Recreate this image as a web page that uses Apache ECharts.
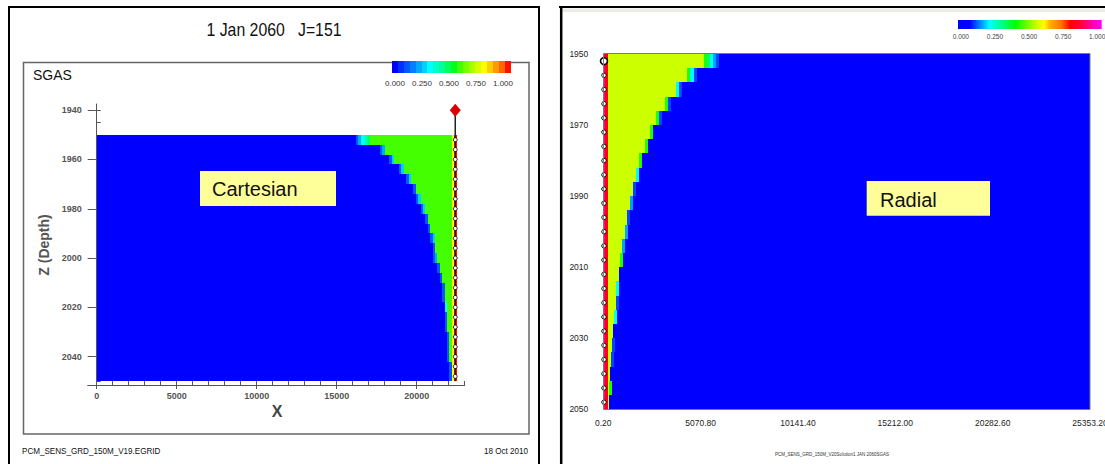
<!DOCTYPE html>
<html><head><meta charset="utf-8">
<script src="https://cdn.jsdelivr.net/npm/echarts@6/dist/echarts.min.js"></script>
<style>html,body{margin:0;padding:0;background:#fff}#c{width:1105px;height:464px}</style>
</head><body><div id="c"></div>
<script>
// ================= DATA =================
// layers (depth tops, 4 m thick) shared by both models
const layerTops = [1950,1954,1958,1962,1966,1970,1974,1978,1982,1986,1990,1994,1998,2002,2006,2010,2014,2018,2022,2026,2030,2034,2038,2042,2046];
const layerThickness = 4;

// Cartesian model (left)
const cartExtent = [0, 22500];
const cartFront = [17100,18000,18600,19200,19650,19950,20250,20550,20700,20850,21150,21150,21300,21450,21600,21750,21750,21900,21900,21900,22050,22050,22050,22200,22200];
const cartTrans = [
  [0.12,0.22,0.3,0.3,0.4,0.48],[0.12,0.22],[0.12,0.28],[0.12,0.28],[0.12,0.28],
  [0.12],[0.12,0.28],[0.12,0.28],[0.12],[0.12],
  [0.12,0.28],[0.12],[0.12,0.22],[0.12],[0.12],
  [0.12],[0.12],[0.3],[0.12],[0.12],
  [0.12],[0.12],[0.12],[0.12],[0.12]
];
const cartCellWidth = 150;
const cartGasValue = 0.57;
const cartWellCells = [[22230,22330,0.78],[22330,22500,0.98]];
const cartWellX = 22410;
const cartWellTopZ = 1940;

// Radial model (right)
const radExtent = [0.2, 25353.2];
const radNearWell = [[0.2,110,0.93],[110,240,0.79]];
const radGasEnd = [5250,4380,3770,3200,2760,2450,2155,1860,1720,1547,1407,1250,1114,974,854,818,677,646,541,505,469,385,365,297,245];
const radTrans = [
  [0.42,0.33,0.22,0.17,0.12],[0.42,0.22,0.12],[0.22,0.12],[0.42,0.12],[0.42,0.12],
  [0.42],[0.42],[0.42],[0.22],[0.12],
  [0.17],[0.12],[0.17],[0.17],[0.42],
  [],[0.22],[0.12],[0.22],[],
  [0.12],[0.12],[],[0.42],[]
];
const radCellWidth = 160;
const radGasValue = 0.55;
const radWellX = 36;

// ticks
const cartXTicks = [0,5000,10000,15000,20000];
const cartXMinor = [0,1000,2000,3000,4000,5000,6000,7000,8000,9000,10000,11000,12000,13000,14000,15000,16000,17000,18000,19000,20000,21000,22000,23000];
const cartZTicks = [1940,1960,1980,2000,2020,2040];
const cartZMinor = [1940,1945,1950,1955,1960,1965,1970,1975,1980,1985,1990,1995,2000,2005,2010,2015,2020,2025,2030,2035,2040,2045,2050];
const radXTicks = [0.2,5070.8,10141.4,15212.0,20282.6,25353.2];
const radZTicks = [1950,1970,1990,2010,2030,2050];
const colorbarTicks = [0,0.25,0.5,0.75,1];
const cartPaletteSteps = 20;

// ================= STYLE =================
const FONT = "'Liberation Sans', Arial, sans-serif";
const cartPalette = ['#0000ff','#0030ff','#0058ff','#0080ff','#00a8ff','#00d0ff','#00ffff','#00ffc8','#00ff96','#00ff5a',
                     '#00ff1e','#44ff00','#78ff00','#a8ff00','#d8ff00','#ffff00','#ffcc00','#ff9900','#ff6600','#ff1000'];
const radStops = [[0,'#0000ff'],[0.08,'#0000ff'],[0.22,'#00ffff'],[0.4,'#00ff00'],[0.55,'#ccff00'],[0.6,'#ffff00'],
                  [0.64,'#ffb000'],[0.72,'#ff7000'],[0.78,'#ff0000'],[0.86,'#ff0040'],[1,'#ff00ff']];

function cartColor(v){ return cartPalette[Math.max(0, Math.min(cartPalette.length-1, Math.floor(v*cartPaletteSteps)))]; }
function hex2rgb(h){ return [parseInt(h.slice(1,3),16),parseInt(h.slice(3,5),16),parseInt(h.slice(5,7),16)]; }
function radColor(v){
  for (let i=1;i<radStops.length;i++){
    if (v <= radStops[i][0]){
      const a = radStops[i-1], b = radStops[i];
      const t = (v-a[0])/(b[0]-a[0] || 1);
      const ca = hex2rgb(a[1]), cb = hex2rgb(b[1]);
      return 'rgb(' + ca.map((c,k)=>Math.round(c+(cb[k]-c)*t)).join(',') + ')';
    }
  }
  return radStops[radStops.length-1][1];
}

// ================= CELLS =================
const zBottom = layerTops[layerTops.length-1] + layerThickness;
const cartCells = [[cartExtent[0], cartExtent[1], layerTops[0], zBottom, 0]];
layerTops.forEach((z0,i)=>{
  const z1 = z0 + layerThickness;
  const front = cartFront[i];
  cartCells.push([front, cartWellCells[0][0], z0, z1, cartGasValue]);
  const tr = cartTrans[i];
  tr.forEach((v,k)=>{
    const xr = front - (tr.length-1-k)*cartCellWidth;
    cartCells.push([xr - cartCellWidth, xr, z0, z1, v]);
  });
  cartWellCells.forEach(c=>cartCells.push([c[0], c[1], z0, z1, c[2]]));
});

const radCells = [[radExtent[0], radExtent[1], layerTops[0], zBottom, 0]];
layerTops.forEach((z0,i)=>{
  const z1 = z0 + layerThickness;
  const gEnd = radGasEnd[i];
  radCells.push([radNearWell[radNearWell.length-1][1], gEnd, z0, z1, radGasValue]);
  radTrans[i].forEach((v,k)=>{
    radCells.push([gEnd + k*radCellWidth, gEnd + (k+1)*radCellWidth, z0, z1, v]);
  });
  radNearWell.forEach(c=>radCells.push([c[0], c[1], z0, z1, c[2]]));
});

const layerMid = layerTops.map(z=>z + layerThickness/2);
const cartDots = layerMid.map(z=>[cartWellX, z]);
const radDots = layerMid.map((z,i)=>({value:[radWellX, z], symbolSize: i===0?7:4.5, itemStyle:{borderWidth: i===0?1.6:1}}));

const cartBar = cartPalette.map((c,i)=>[i/cartPaletteSteps, (i+1)/cartPaletteSteps, 0, 1, (i+0.5)/cartPaletteSteps]);
const radBar = [[0,1,0,1,0]];

function cellRenderer(colorFn){
  return function(params, api){
    const a = api.coord([api.value(0), api.value(2)]);
    const b = api.coord([api.value(1), api.value(3)]);
    const x0 = Math.round(Math.min(a[0],b[0])), x1 = Math.round(Math.max(a[0],b[0]));
    const y0 = Math.round(Math.min(a[1],b[1])), y1 = Math.round(Math.max(a[1],b[1]));
    return {type:'rect', shape:{x:x0, y:y0, width:Math.max(1,x1-x0), height:Math.max(1,y1-y0)}, style:{fill:colorFn(api.value(4))}};
  };
}
function gradRenderer(params, api){
  const a = api.coord([api.value(0), api.value(2)]);
  const b = api.coord([api.value(1), api.value(3)]);
  return {type:'rect', shape:{x:Math.min(a[0],b[0]), y:Math.min(a[1],b[1]), width:Math.abs(b[0]-a[0]), height:Math.abs(b[1]-a[1])},
    style:{fill: new echarts.graphic.LinearGradient(0,0,1,0, radStops.map(s=>({offset:s[0], color:s[1]})))}};
}

const axisGray = '#555';
const plain = v => String(v);
const hiddenAxis = (g, min, max)=>({gridIndex:g, type:'value', min, max, show:false});

const chart = echarts.init(document.getElementById('c'), null, {renderer:'svg'});
chart.setOption({
  animation:false,
  backgroundColor:'#fff',
  grid:[
    {left:87.7, top:104, width:377, height:281, containLabel:false, outerBoundsMode:'none'},
    {left:603.3, top:54, width:486.7, height:355.3, containLabel:false, outerBoundsMode:'none'},
    {left:391.7, top:61, width:119.3, height:12, containLabel:false, outerBoundsMode:'none'},
    {left:958, top:20, width:143.7, height:9, containLabel:false, outerBoundsMode:'none'}
  ],
  xAxis:[
    {gridIndex:0, type:'value', min:-560, max:23000, position:'bottom', splitLine:{show:false},
     axisLine:{show:true, lineStyle:{color:axisGray, width:1}},
     axisTick:{show:true, customValues:cartXTicks, length:4, inside:false, lineStyle:{color:axisGray}},
     axisLabel:{customValues:cartXTicks, formatter:plain, color:'#555', fontWeight:'bold', fontSize:9, fontFamily:FONT, margin:6}},
    {gridIndex:0, type:'value', min:-560, max:23000, position:'bottom', splitLine:{show:false},
     axisLine:{show:false}, axisLabel:{show:false},
     axisTick:{show:true, customValues:cartXMinor, length:4, inside:true, lineStyle:{color:axisGray}}},
    {gridIndex:1, type:'value', min:radExtent[0], max:radExtent[1], position:'bottom', splitLine:{show:false},
     axisLine:{show:false}, axisTick:{show:false},
     axisLabel:{customValues:radXTicks, formatter:v=>v.toFixed(2), color:'#222', fontSize:8.5, fontFamily:FONT, margin:9}},
    hiddenAxis(2,0,1),
    {gridIndex:2, type:'value', min:-0.0306, max:1.074, position:'bottom', splitLine:{show:false},
     axisLine:{show:false}, axisTick:{show:false},
     axisLabel:{customValues:colorbarTicks, formatter:v=>v.toFixed(3), color:'#333', fontSize:8, fontFamily:FONT, margin:6}},
    hiddenAxis(3,0,1),
    {gridIndex:3, type:'value', min:-0.021, max:1.033, position:'bottom', splitLine:{show:false},
     axisLine:{show:false}, axisTick:{show:false},
     axisLabel:{customValues:colorbarTicks, formatter:v=>v.toFixed(3), color:'#444', fontSize:6.5, fontFamily:FONT, margin:4}}
  ],
  yAxis:[
    {gridIndex:0, type:'value', inverse:true, min:1937.5, max:2051.5, position:'left', offset:0, splitLine:{show:false},
     axisLine:{show:true, lineStyle:{color:axisGray, width:1}},
     axisTick:{show:true, customValues:cartZTicks, length:2, inside:false, lineStyle:{color:axisGray}},
     axisLabel:{customValues:cartZTicks, formatter:plain, color:'#555', fontWeight:'bold', fontSize:9, fontFamily:FONT, margin:6}},
    {gridIndex:0, type:'value', inverse:true, min:1937.5, max:2051.5, position:'left', offset:0, splitLine:{show:false},
     axisLine:{show:false}, axisLabel:{show:false},
     axisTick:{show:true, customValues:cartZMinor, length:4, inside:true, lineStyle:{color:axisGray}}},
    {gridIndex:0, type:'value', inverse:true, min:1937.5, max:2051.5, position:'left', offset:0, splitLine:{show:false},
     axisLine:{show:false}, axisLabel:{show:false},
     axisTick:{show:true, customValues:cartZTicks, length:7, inside:true, lineStyle:{color:axisGray}}},
    {gridIndex:1, type:'value', inverse:true, min:layerTops[0], max:zBottom, position:'left', splitLine:{show:false},
     axisLine:{show:false}, axisTick:{show:false},
     axisLabel:{customValues:radZTicks, formatter:plain, color:'#222', fontSize:8.5, fontFamily:FONT, margin:15}},
    hiddenAxis(2,0,1),
    hiddenAxis(3,0,1)
  ],
  series:[
    {type:'custom', name:'SGAS Cartesian', xAxisIndex:0, yAxisIndex:0, data:cartCells, encode:{x:[0,1], y:[2,3]},
     renderItem:cellRenderer(cartColor), silent:true, clip:false, z:2},
    {type:'line', xAxisIndex:0, yAxisIndex:0, data:[[cartWellX, cartWellTopZ],[cartWellX, zBottom]], symbol:'none',
     lineStyle:{color:'#222', width:1.5}, silent:true, z:5},
    {type:'scatter', xAxisIndex:0, yAxisIndex:0, data:cartDots, symbol:'circle', symbolSize:4,
     itemStyle:{color:'#fff', borderColor:'#000', borderWidth:0.9, opacity:1}, silent:true, z:6},
    {type:'scatter', xAxisIndex:0, yAxisIndex:0, data:[[cartWellX, cartWellTopZ]], symbol:'diamond', symbolSize:[11,13],
     itemStyle:{color:'#dd0000', opacity:1}, silent:true, z:6},
    {type:'custom', name:'SGAS Radial', xAxisIndex:2, yAxisIndex:3, data:radCells, encode:{x:[0,1], y:[2,3]},
     renderItem:cellRenderer(radColor), silent:true, clip:false, z:2},
    {type:'scatter', xAxisIndex:2, yAxisIndex:3, data:radDots, symbol:'circle',
     itemStyle:{color:'#fff', borderColor:'#000', opacity:1}, silent:true, z:6},
    {type:'custom', xAxisIndex:3, yAxisIndex:4, data:cartBar, encode:{x:[0,1], y:[2,3]},
     renderItem:cellRenderer(cartColor), silent:true, clip:false},
    {type:'custom', xAxisIndex:5, yAxisIndex:5, data:radBar, encode:{x:[0,1], y:[2,3]},
     renderItem:gradRenderer, silent:true, clip:false}
  ],
  graphic:[
    // left panel frames
    {type:'rect', z:1, shape:{x:9, y:7, width:530, height:480}, style:{fill:'none', stroke:'#000', lineWidth:2}},
    {type:'rect', z:1, shape:{x:23.5, y:62.5, width:505.5, height:371.5}, style:{fill:'none', stroke:'#666', lineWidth:1.5}},
    {type:'text', z:10, x:274, y:30, scaleX:0.88, style:{text:'1 Jan 2060   J=151', font:'18px '+FONT, fill:'#111', textAlign:'center', textVerticalAlign:'middle', align:'center', verticalAlign:'middle'}},
    {type:'text', z:10, x:33, y:75, style:{text:'SGAS', font:'14px '+FONT, fill:'#111', textAlign:'left', textVerticalAlign:'middle', align:'left', verticalAlign:'middle'}},
    {type:'text', z:10, x:44, y:245, rotation:Math.PI/2, style:{text:'Z (Depth)', font:'bold 14px '+FONT, fill:'#555', textAlign:'center', textVerticalAlign:'middle', align:'center', verticalAlign:'middle'}},
    {type:'text', z:10, x:277, y:411, style:{text:'X', font:'bold 16px '+FONT, fill:'#444', textAlign:'center', textVerticalAlign:'middle', align:'center', verticalAlign:'middle'}},
    {type:'text', z:10, x:22, y:451, scaleX:0.9, style:{text:'PCM_SENS_GRD_150M_V19.EGRID', font:'9px '+FONT, fill:'#111', textAlign:'left', textVerticalAlign:'middle', align:'left', verticalAlign:'middle'}},
    {type:'text', z:10, x:528, y:451, scaleX:0.9, style:{text:'18 Oct 2010', font:'9px '+FONT, fill:'#111', textAlign:'right', textVerticalAlign:'middle', align:'right', verticalAlign:'middle'}},
    {type:'rect', z:20, shape:{x:200, y:171, width:136, height:35}, style:{fill:'#ffff99'}},
    {type:'text', z:21, x:212, y:189, style:{text:'Cartesian', font:'20px '+FONT, fill:'#111', textAlign:'left', textVerticalAlign:'middle', align:'left', verticalAlign:'middle'}},
    // right panel frame
    {type:'rect', z:1, shape:{x:562, y:8.5, width:543, height:3.5}, style:{fill:'#ecebe4'}},
    {type:'line', z:1, shape:{x1:559, y1:7, x2:1105, y2:7}, style:{stroke:'#000', lineWidth:2}},
    {type:'line', z:1, shape:{x1:561.2, y1:6, x2:561.2, y2:464}, style:{stroke:'#000', lineWidth:2.5}},
    {type:'rect', z:8, shape:{x:603.5, y:53.5, width:486.5, height:356}, style:{fill:'none', stroke:'#7a7a7a', lineWidth:1}},
    {type:'rect', z:20, shape:{x:866.7, y:181, width:123.3, height:34.7}, style:{fill:'#ffff99'}},
    {type:'text', z:21, x:880, y:199.5, style:{text:'Radial', font:'20px '+FONT, fill:'#111', textAlign:'left', textVerticalAlign:'middle', align:'left', verticalAlign:'middle'}},
    {type:'text', z:10, x:832, y:454, style:{text:'PCM_SENS_GRD_150M_V20Solution1 JAN 2060SGAS', font:'4.5px '+FONT, fill:'#333', textAlign:'center', textVerticalAlign:'middle', align:'center', verticalAlign:'middle'}}
  ]
});
</script>
</body></html>
